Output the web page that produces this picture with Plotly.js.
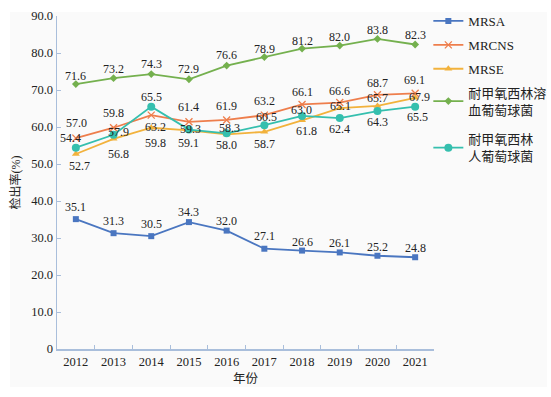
<!DOCTYPE html>
<html>
<head>
<meta charset="utf-8">
<script src="https://cdn.plot.ly/plotly-3.0.1.min.js"></script>
<style>
  html, body { margin: 0; padding: 0; background: #ffffff; overflow: hidden; width: 551px; height: 397px; }
  #bg { position: absolute; left: 10px; top: 12px; width: 537px; height: 375px; background: #fafafa; }
  #chart { position: absolute; left: 0px; top: -30px; width: 600px; height: 427px; }
</style>
</head>
<body>
<div id="bg"></div>
<div id="chart"></div>
<script>
// ---- data ----
const years = ['2012', '2013', '2014', '2015', '2016', '2017', '2018', '2019', '2020', '2021'];
const mrsa  = [35.1, 31.3, 30.5, 34.3, 32.0, 27.1, 26.6, 26.1, 25.2, 24.8];
const mrcns = [57.0, 59.8, 63.2, 61.4, 61.9, 63.2, 66.1, 66.6, 68.7, 69.1];
const mrse  = [52.7, 56.8, 59.8, 59.1, 58.0, 58.7, 61.8, 65.1, 65.7, 67.9];
const mrsh  = [71.6, 73.2, 74.3, 72.9, 76.6, 78.9, 81.2, 82.0, 83.8, 82.3];
const mrshom = [54.4, 57.9, 65.5, 59.3, 58.3, 60.5, 63.0, 62.4, 64.3, 65.5];
const seriesNames = ['MRSA', 'MRCNS', 'MRSE', '耐甲氧西林溶<br>血葡萄球菌', '耐甲氧西林<br>人葡萄球菌'];
const yTickVals = [0, 10, 20, 30, 40, 50, 60, 70, 80, 90];
const yTickText = ['0', '10.0', '20.0', '30.0', '40.0', '50.0', '60.0', '70.0', '80.0', '90.0'];

// ---- styles / label offsets (pixels, dy positive = down) ----
const colors = ['#4a76c0', '#ee7e4c', '#f2b23c', '#74b04e', '#35bfae'];
const symbols = ['square', 'x-thin', 'triangle-up', 'diamond', 'circle'];
const msizes = [6, 7, 7, 6, 8];
const legendIds = ['legend', 'legend', 'legend', 'legend', 'legend2'];
const labelOffsets = [
  [[0,-12],[0,-12],[0,-12],[0,-10],[0,-10],[0,-13],[0,-9],[0,-9],[0,-9],[0,-9]],
  [[1,-15],[0,-15],[4,12],[0,-15],[0,-14],[0,-14],[0,-12],[0,-12],[0,-12],[-1,-13]],
  [[4,12],[5,15],[4,15],[0,13],[0,11],[0,12],[4,11],[1,-2],[0,-8],[4,-1]],
  [[0,-8],[0,-9],[0,-10],[0,-10],[0,-11],[0,-8],[0,-8],[0,-9],[0,-9],[0,-9]],
  [[-5,-10],[5,-3],[0,-10],[2,-1],[3,-5],[2,-8],[-1,-6],[0,11],[0,11],[2,10]]
];

const serif = '"Liberation Serif", "Times New Roman", "Noto Sans CJK SC", serif';
const seriesData = [mrsa, mrcns, mrse, mrsh, mrshom];

const traces = seriesData.map((vals, i) => ({
  type: 'scatter',
  mode: 'lines+markers',
  name: seriesNames[i],
  legendgroup: 'g' + i,
  legend: legendIds[i],
  x: years,
  y: vals,
  line: { color: colors[i], width: 1.8 },
  marker: {
    symbol: symbols[i],
    size: msizes[i],
    color: colors[i],
    line: { color: colors[i], width: symbols[i] === 'x-thin' ? 1.3 : 0 }
  },
  hoverinfo: 'skip'
}));

const annotations = [];
seriesData.forEach((vals, i) => {
  vals.forEach((v, j) => {
    annotations.push({
      x: j, y: v, xref: 'x', yref: 'y',
      text: v.toFixed(1), showarrow: false,
      xshift: labelOffsets[i][j][0], yshift: -labelOffsets[i][j][1],
      font: { family: serif, size: 12, color: '#222222' }
    });
  });
});

const axisColor = '#a9bedb';
const legendFont = { family: serif, size: 13, color: '#222222' };
const layout = {
  width: 600, height: 427,
  paper_bgcolor: 'rgba(0,0,0,0)', plot_bgcolor: 'rgba(0,0,0,0)',
  margin: { l: 57, r: 166, t: 46, b: 48 },
  showlegend: true,
  legend: {
    x: 0.985, xanchor: 'left', y: 1.03, yanchor: 'top',
    bgcolor: 'rgba(0,0,0,0)', borderwidth: 0,
    font: legendFont, tracegroupgap: 4
  },
  legend2: {
    x: 0.985, xanchor: 'left', y: 0.675, yanchor: 'top',
    bgcolor: 'rgba(0,0,0,0)', borderwidth: 0,
    font: legendFont, tracegroupgap: 4
  },
  xaxis: {
    type: 'category', range: [-0.5, 9.5],
    showline: true, linecolor: axisColor, linewidth: 1.5,
    ticks: 'inside', tickson: 'boundaries', ticklen: 4, tickcolor: axisColor, tickwidth: 1,
    showgrid: false, zeroline: false,
    tickfont: { family: serif, size: 12.5, color: '#222222' },
    title: { text: '年份', font: { family: serif, size: 12.5, color: '#222222' }, standoff: 6 }
  },
  yaxis: {
    range: [0, 90], tickvals: yTickVals, ticktext: yTickText,
    showline: true, linecolor: axisColor, linewidth: 1.5,
    ticks: 'inside', ticklen: 4, tickcolor: axisColor, tickwidth: 1,
    showgrid: false, zeroline: false,
    tickfont: { family: serif, size: 12.5, color: '#222222' },
    title: { text: '检出率(%)', font: { family: serif, size: 12, color: '#222222' }, standoff: 8 }
  },
  annotations: annotations
};

Plotly.newPlot('chart', traces, layout, { displayModeBar: false, staticPlot: true });
</script>
</body>
</html>
